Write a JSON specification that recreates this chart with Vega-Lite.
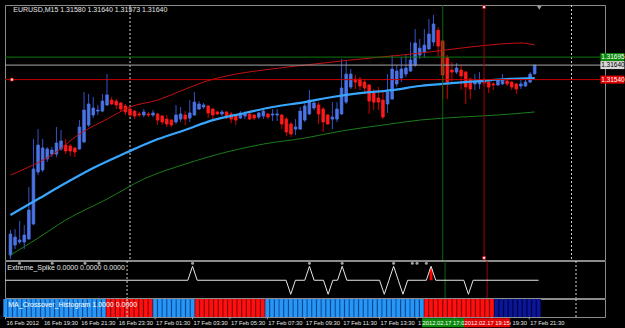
{
"$schema": "https://vega.github.io/schema/vega-lite/v6.json",
"background": "#000000",
"padding": {"left": 2, "top": 3, "right": 0, "bottom": 0},
"bounds": "flush",
"spacing": 1,
"config": {"font": "Liberation Sans", "view": {"stroke": "#8c8c8c"}},
"datasets": {
"candles": [
{"i":0,"o":1.30331,"h":1.30504,"l":1.30304,"c":1.30476},
{"i":1,"o":1.30400,"h":1.30510,"l":1.30373,"c":1.30455},
{"i":2,"o":1.30421,"h":1.30566,"l":1.30407,"c":1.30435},
{"i":3,"o":1.30421,"h":1.30538,"l":1.30373,"c":1.30469},
{"i":4,"o":1.30442,"h":1.30800,"l":1.30435,"c":1.30641},
{"i":5,"o":1.30545,"h":1.31131,"l":1.30538,"c":1.30924},
{"i":6,"o":1.30903,"h":1.31199,"l":1.30882,"c":1.31089},
{"i":7,"o":1.30917,"h":1.31131,"l":1.30903,"c":1.31069},
{"i":8,"o":1.30993,"h":1.31075,"l":1.30972,"c":1.31062},
{"i":9,"o":1.31027,"h":1.31075,"l":1.31006,"c":1.31055},
{"i":10,"o":1.31027,"h":1.31213,"l":1.31006,"c":1.31103},
{"i":11,"o":1.31062,"h":1.31193,"l":1.31048,"c":1.31117},
{"i":12,"o":1.31089,"h":1.31131,"l":1.31027,"c":1.31048},
{"i":13,"o":1.31082,"h":1.31096,"l":1.31013,"c":1.31048},
{"i":14,"o":1.31069,"h":1.31075,"l":1.31006,"c":1.31041},
{"i":15,"o":1.31062,"h":1.31261,"l":1.31055,"c":1.31213},
{"i":16,"o":1.31110,"h":1.31454,"l":1.31103,"c":1.31330},
{"i":17,"o":1.31227,"h":1.31441,"l":1.31213,"c":1.31372},
{"i":18,"o":1.31296,"h":1.31420,"l":1.31275,"c":1.31344},
{"i":19,"o":1.31323,"h":1.31365,"l":1.31296,"c":1.31330},
{"i":20,"o":1.31323,"h":1.31441,"l":1.31317,"c":1.31392},
{"i":21,"o":1.31365,"h":1.31578,"l":1.31358,"c":1.31434},
{"i":22,"o":1.31399,"h":1.31420,"l":1.31365,"c":1.31372},
{"i":23,"o":1.31392,"h":1.31406,"l":1.31337,"c":1.31365},
{"i":24,"o":1.31379,"h":1.31385,"l":1.31317,"c":1.31337},
{"i":25,"o":1.31358,"h":1.31372,"l":1.31296,"c":1.31317},
{"i":26,"o":1.31337,"h":1.31351,"l":1.31282,"c":1.31296},
{"i":27,"o":1.31323,"h":1.31330,"l":1.31268,"c":1.31289},
{"i":28,"o":1.31303,"h":1.31317,"l":1.31282,"c":1.31296},
{"i":29,"o":1.31296,"h":1.31337,"l":1.31282,"c":1.31317},
{"i":30,"o":1.31303,"h":1.31317,"l":1.31282,"c":1.31296},
{"i":31,"o":1.31296,"h":1.31330,"l":1.31282,"c":1.31310},
{"i":32,"o":1.31303,"h":1.31310,"l":1.31227,"c":1.31261},
{"i":33,"o":1.31289,"h":1.31296,"l":1.31227,"c":1.31248},
{"i":34,"o":1.31268,"h":1.31296,"l":1.31213,"c":1.31234},
{"i":35,"o":1.31261,"h":1.31268,"l":1.31213,"c":1.31227},
{"i":36,"o":1.31248,"h":1.31365,"l":1.31234,"c":1.31296},
{"i":37,"o":1.31268,"h":1.31351,"l":1.31248,"c":1.31303},
{"i":38,"o":1.31296,"h":1.31323,"l":1.31227,"c":1.31268},
{"i":39,"o":1.31275,"h":1.31399,"l":1.31248,"c":1.31310},
{"i":40,"o":1.31296,"h":1.31454,"l":1.31289,"c":1.31385},
{"i":41,"o":1.31337,"h":1.31392,"l":1.31330,"c":1.31372},
{"i":42,"o":1.31351,"h":1.31379,"l":1.31337,"c":1.31365},
{"i":43,"o":1.31358,"h":1.31365,"l":1.31275,"c":1.31310},
{"i":44,"o":1.31337,"h":1.31344,"l":1.31268,"c":1.31296},
{"i":45,"o":1.31317,"h":1.31323,"l":1.31296,"c":1.31303},
{"i":46,"o":1.31303,"h":1.31330,"l":1.31289,"c":1.31317},
{"i":47,"o":1.31317,"h":1.31323,"l":1.31268,"c":1.31282},
{"i":48,"o":1.31303,"h":1.31317,"l":1.31241,"c":1.31268},
{"i":49,"o":1.31296,"h":1.31303,"l":1.31227,"c":1.31261},
{"i":50,"o":1.31275,"h":1.31323,"l":1.31268,"c":1.31310},
{"i":51,"o":1.31289,"h":1.31323,"l":1.31268,"c":1.31303},
{"i":52,"o":1.31303,"h":1.31310,"l":1.31261,"c":1.31268},
{"i":53,"o":1.31296,"h":1.31303,"l":1.31261,"c":1.31275},
{"i":54,"o":1.31282,"h":1.31317,"l":1.31268,"c":1.31310},
{"i":55,"o":1.31289,"h":1.31337,"l":1.31268,"c":1.31323},
{"i":56,"o":1.31303,"h":1.31310,"l":1.31268,"c":1.31282},
{"i":57,"o":1.31296,"h":1.31337,"l":1.31255,"c":1.31303},
{"i":58,"o":1.31296,"h":1.31337,"l":1.31255,"c":1.31303},
{"i":59,"o":1.31296,"h":1.31303,"l":1.31199,"c":1.31234},
{"i":60,"o":1.31268,"h":1.31282,"l":1.31151,"c":1.31179},
{"i":61,"o":1.31234,"h":1.31248,"l":1.31144,"c":1.31165},
{"i":62,"o":1.31199,"h":1.31268,"l":1.31158,"c":1.31213},
{"i":63,"o":1.31199,"h":1.31351,"l":1.31193,"c":1.31323},
{"i":64,"o":1.31261,"h":1.31385,"l":1.31248,"c":1.31358},
{"i":65,"o":1.31303,"h":1.31468,"l":1.31296,"c":1.31399},
{"i":66,"o":1.31344,"h":1.31399,"l":1.31330,"c":1.31379},
{"i":67,"o":1.31365,"h":1.31385,"l":1.31234,"c":1.31303},
{"i":68,"o":1.31337,"h":1.31351,"l":1.31179,"c":1.31248},
{"i":69,"o":1.31296,"h":1.31303,"l":1.31227,"c":1.31234},
{"i":70,"o":1.31268,"h":1.31385,"l":1.31199,"c":1.31282},
{"i":71,"o":1.31268,"h":1.31385,"l":1.31248,"c":1.31337},
{"i":72,"o":1.31303,"h":1.31682,"l":1.31296,"c":1.31482},
{"i":73,"o":1.31385,"h":1.31675,"l":1.31372,"c":1.31578},
{"i":74,"o":1.31489,"h":1.31613,"l":1.31475,"c":1.31578},
{"i":75,"o":1.31544,"h":1.31571,"l":1.31475,"c":1.31523},
{"i":76,"o":1.31544,"h":1.31558,"l":1.31468,"c":1.31496},
{"i":77,"o":1.31523,"h":1.31537,"l":1.31441,"c":1.31482},
{"i":78,"o":1.31503,"h":1.31510,"l":1.31303,"c":1.31392},
{"i":79,"o":1.31447,"h":1.31475,"l":1.31330,"c":1.31385},
{"i":80,"o":1.31413,"h":1.31489,"l":1.31330,"c":1.31385},
{"i":81,"o":1.31399,"h":1.31454,"l":1.31268,"c":1.31282},
{"i":82,"o":1.31372,"h":1.31578,"l":1.31310,"c":1.31454},
{"i":83,"o":1.31406,"h":1.31709,"l":1.31399,"c":1.31613},
{"i":84,"o":1.31510,"h":1.31640,"l":1.31489,"c":1.31599},
{"i":85,"o":1.31551,"h":1.31695,"l":1.31523,"c":1.31613},
{"i":86,"o":1.31578,"h":1.31709,"l":1.31558,"c":1.31620},
{"i":87,"o":1.31599,"h":1.31799,"l":1.31592,"c":1.31675},
{"i":88,"o":1.31640,"h":1.31888,"l":1.31627,"c":1.31792},
{"i":89,"o":1.31709,"h":1.31820,"l":1.31682,"c":1.31757},
{"i":90,"o":1.31730,"h":1.31888,"l":1.31689,"c":1.31778},
{"i":91,"o":1.31751,"h":1.31957,"l":1.31744,"c":1.31854},
{"i":92,"o":1.31799,"h":1.31985,"l":1.31771,"c":1.31923},
{"i":93,"o":1.31880,"h":1.31900,"l":1.31696,"c":1.31771},
{"i":94,"o":1.31806,"h":1.31813,"l":1.31406,"c":1.31571},
{"i":95,"o":1.31689,"h":1.31709,"l":1.31406,"c":1.31523},
{"i":96,"o":1.31606,"h":1.31661,"l":1.31523,"c":1.31592},
{"i":97,"o":1.31592,"h":1.31654,"l":1.31578,"c":1.31620},
{"i":98,"o":1.31606,"h":1.31640,"l":1.31468,"c":1.31565},
{"i":99,"o":1.31592,"h":1.31599,"l":1.31372,"c":1.31489},
{"i":100,"o":1.31544,"h":1.31551,"l":1.31406,"c":1.31475},
{"i":101,"o":1.31510,"h":1.31578,"l":1.31468,"c":1.31530},
{"i":102,"o":1.31510,"h":1.31592,"l":1.31475,"c":1.31537},
{"i":103,"o":1.31537,"h":1.31551,"l":1.31496,"c":1.31516},
{"i":104,"o":1.31523,"h":1.31530,"l":1.31447,"c":1.31489},
{"i":105,"o":1.31510,"h":1.31523,"l":1.31468,"c":1.31503},
{"i":106,"o":1.31503,"h":1.31544,"l":1.31496,"c":1.31537},
{"i":107,"o":1.31510,"h":1.31578,"l":1.31503,"c":1.31537},
{"i":108,"o":1.31530,"h":1.31544,"l":1.31496,"c":1.31510},
{"i":109,"o":1.31523,"h":1.31530,"l":1.31468,"c":1.31489},
{"i":110,"o":1.31510,"h":1.31516,"l":1.31441,"c":1.31475},
{"i":111,"o":1.31496,"h":1.31537,"l":1.31475,"c":1.31510},
{"i":112,"o":1.31496,"h":1.31537,"l":1.31489,"c":1.31523},
{"i":113,"o":1.31523,"h":1.31592,"l":1.31516,"c":1.31578},
{"i":114,"o":1.31580,"h":1.31640,"l":1.31573,"c":1.31640}
],
"ma": [
{"i":0,"m":"fast","p":1.30607},{"i":6,"m":"fast","p":1.30717},{"i":12,"m":"fast","p":1.30827},{"i":18,"m":"fast","p":1.30931},{"i":25,"m":"fast","p":1.31034},{"i":31,"m":"fast","p":1.31117},{"i":38,"m":"fast","p":1.31193},{"i":44,"m":"fast","p":1.31261},{"i":51,"m":"fast","p":1.31310},{"i":57,"m":"fast","p":1.31351},{"i":64,"m":"fast","p":1.31385},{"i":70,"m":"fast","p":1.31420},{"i":76,"m":"fast","p":1.31447},{"i":83,"m":"fast","p":1.31468},{"i":89,"m":"fast","p":1.31496},{"i":96,"m":"fast","p":1.31516},{"i":102,"m":"fast","p":1.31530},{"i":108,"m":"fast","p":1.31544},{"i":114,"m":"fast","p":1.31551},
{"i":0,"m":"upper","p":1.30882},{"i":4,"m":"upper","p":1.30938},{"i":9,"m":"upper","p":1.31020},{"i":15,"m":"upper","p":1.31165},{"i":21,"m":"upper","p":1.31268},{"i":26,"m":"upper","p":1.31351},{"i":32,"m":"upper","p":1.31399},{"i":37,"m":"upper","p":1.31461},{"i":42,"m":"upper","p":1.31523},{"i":49,"m":"upper","p":1.31578},{"i":55,"m":"upper","p":1.31606},{"i":64,"m":"upper","p":1.31640},{"i":74,"m":"upper","p":1.31675},{"i":85,"m":"upper","p":1.31709},{"i":91,"m":"upper","p":1.31730},{"i":98,"m":"upper","p":1.31757},{"i":104,"m":"upper","p":1.31778},{"i":111,"m":"upper","p":1.31792},{"i":114,"m":"upper","p":1.31778},
{"i":0,"m":"lower","p":1.30331},{"i":6,"m":"lower","p":1.30448},{"i":12,"m":"lower","p":1.30572},{"i":21,"m":"lower","p":1.30717},{"i":29,"m":"lower","p":1.30855},{"i":38,"m":"lower","p":1.30958},{"i":47,"m":"lower","p":1.31041},{"i":55,"m":"lower","p":1.31096},{"i":64,"m":"lower","p":1.31137},{"i":72,"m":"lower","p":1.31186},{"i":81,"m":"lower","p":1.31227},{"i":89,"m":"lower","p":1.31261},{"i":98,"m":"lower","p":1.31282},{"i":106,"m":"lower","p":1.31296},{"i":114,"m":"lower","p":1.31317}
],
"tags": [
{"p":1.31695,"t":"1.31695","k":"g"},
{"p":1.31640,"t":"1.31640","k":"w"},
{"p":1.31540,"t":"1.31540","k":"r"}
],
"seps": [{"i":26},{"i":122}],
"spike": [
{"i":0,"v":0},{"i":39,"v":0},{"i":40,"v":1.2},{"i":41,"v":0},{"i":60,"v":0},{"i":61,"v":-1.2},{"i":62,"v":0},{"i":64,"v":0},{"i":65,"v":1.2},{"i":66,"v":0},{"i":68,"v":0},{"i":69,"v":-1.2},{"i":70,"v":0},{"i":71,"v":0},{"i":72,"v":1.2},{"i":73,"v":0},{"i":80,"v":0},{"i":81,"v":-1.2},{"i":82,"v":0},{"i":83,"v":1.2},{"i":84,"v":0},{"i":85,"v":-1.2},{"i":86,"v":0},{"i":90,"v":0},{"i":91,"v":1.2},{"i":92,"v":0},{"i":98,"v":0},{"i":99,"v":-1.2},{"i":100,"v":0},{"i":114,"v":0}
],
"arrows": [{"i":3},{"i":10},{"i":17},{"i":20},{"i":40},{"i":65},{"i":72},{"i":83},{"i":87},{"i":88},{"i":90}],
"times": [
{"i":0,"t":"16 Feb 2012"},{"i":8,"t":"16 Feb 19:30"},{"i":16,"t":"16 Feb 21:30"},{"i":24,"t":"16 Feb 23:30"},{"i":32,"t":"17 Feb 01:30"},{"i":40,"t":"17 Feb 03:30"},{"i":48,"t":"17 Feb 05:30"},{"i":56,"t":"17 Feb 07:30"},{"i":64,"t":"17 Feb 09:30"},{"i":72,"t":"17 Feb 11:30"},{"i":80,"t":"17 Feb 13:30"},{"i":88,"t":"17 Feb 15:30"},{"i":96,"t":"17 Feb 17:30"},{"i":104,"t":"17 Feb 19:30"},{"i":112,"t":"17 Feb 21:30"}
],
"hist": [
{"i":0,"s":"b"},{"i":1,"s":"b"},{"i":2,"s":"b"},{"i":3,"s":"b"},{"i":4,"s":"b"},{"i":5,"s":"b"},{"i":6,"s":"b"},{"i":7,"s":"b"},{"i":8,"s":"b"},{"i":9,"s":"b"},{"i":10,"s":"b"},{"i":11,"s":"b"},{"i":12,"s":"b"},{"i":13,"s":"b"},{"i":14,"s":"b"},{"i":15,"s":"b"},{"i":16,"s":"b"},{"i":17,"s":"b"},{"i":18,"s":"b"},{"i":19,"s":"b"},{"i":20,"s":"b"},{"i":21,"s":"b"},
{"i":22,"s":"r"},{"i":23,"s":"r"},{"i":24,"s":"r"},{"i":25,"s":"r"},{"i":26,"s":"r"},{"i":27,"s":"r"},{"i":28,"s":"r"},{"i":29,"s":"r"},{"i":30,"s":"r"},{"i":31,"s":"r"},
{"i":32,"s":"b"},{"i":33,"s":"b"},{"i":34,"s":"b"},{"i":35,"s":"b"},{"i":36,"s":"b"},{"i":37,"s":"b"},{"i":38,"s":"b"},{"i":39,"s":"b"},{"i":40,"s":"b"},
{"i":41,"s":"r"},{"i":42,"s":"r"},{"i":43,"s":"r"},{"i":44,"s":"r"},{"i":45,"s":"r"},{"i":46,"s":"r"},{"i":47,"s":"r"},{"i":48,"s":"r"},{"i":49,"s":"r"},{"i":50,"s":"r"},{"i":51,"s":"r"},{"i":52,"s":"r"},{"i":53,"s":"r"},{"i":54,"s":"r"},{"i":55,"s":"r"},
{"i":56,"s":"b"},{"i":57,"s":"b"},{"i":58,"s":"b"},{"i":59,"s":"b"},{"i":60,"s":"b"},{"i":61,"s":"b"},{"i":62,"s":"b"},{"i":63,"s":"b"},{"i":64,"s":"b"},{"i":65,"s":"b"},{"i":66,"s":"b"},{"i":67,"s":"b"},{"i":68,"s":"b"},{"i":69,"s":"b"},{"i":70,"s":"b"},{"i":71,"s":"b"},{"i":72,"s":"b"},{"i":73,"s":"b"},{"i":74,"s":"b"},{"i":75,"s":"b"},{"i":76,"s":"b"},{"i":77,"s":"b"},{"i":78,"s":"b"},{"i":79,"s":"b"},{"i":80,"s":"b"},{"i":81,"s":"b"},{"i":82,"s":"b"},{"i":83,"s":"b"},{"i":84,"s":"b"},{"i":85,"s":"b"},{"i":86,"s":"b"},{"i":87,"s":"b"},{"i":88,"s":"b"},{"i":89,"s":"b"},
{"i":90,"s":"r"},{"i":91,"s":"r"},{"i":92,"s":"r"},{"i":93,"s":"r"},{"i":94,"s":"r"},{"i":95,"s":"r"},{"i":96,"s":"r"},{"i":97,"s":"r"},{"i":98,"s":"r"},{"i":99,"s":"r"},{"i":100,"s":"r"},{"i":101,"s":"r"},{"i":102,"s":"r"},{"i":103,"s":"r"},{"i":104,"s":"r"},
{"i":105,"s":"n"},{"i":106,"s":"n"},{"i":107,"s":"n"},{"i":108,"s":"n"},{"i":109,"s":"n"},{"i":110,"s":"n"},{"i":111,"s":"n"},{"i":112,"s":"n"},{"i":113,"s":"n"},{"i":114,"s":"n"}
]
},
"vconcat": [
{
"width": 600, "height": 255,
"layer": [
{"data": {"name": "seps"}, "mark": {"type": "rule", "color": "#d0d0d0", "strokeDash": [2, 2], "strokeWidth": 1},
 "encoding": {"x": {"field": "i", "type": "quantitative", "scale": {"domain": [-0.1, 128.2], "nice": false, "zero": false}, "axis": null}}},
{"data": {"name": "candles"}, "mark": {"type": "rule", "strokeWidth": 1},
 "encoding": {
  "x": {"field": "i", "type": "quantitative", "scale": {"domain": [-0.1, 128.2], "nice": false, "zero": false}, "axis": null},
  "y": {"field": "l", "type": "quantitative", "scale": {"domain": [1.30297, 1.32054], "nice": false, "zero": false},
        "axis": {"orient": "right", "values": [1.3198, 1.31855, 1.31725, 1.31595, 1.31465, 1.31335, 1.3121, 1.3108, 1.3095, 1.30825, 1.30695, 1.30565, 1.30435, 1.30305],
                 "format": ".5f", "labelFont": "Liberation Sans", "labelFontSize": 6.5, "labelColor": "#e6e6e6", "tickSize": 2, "tickColor": "#a0a0a0",
                 "domainColor": "#8c8c8c", "grid": false, "title": null, "labelPadding": 2, "labelOverlap": false, "labelBound": false, "labelFlush": false}},
  "y2": {"field": "h"},
  "color": {"condition": {"test": "datum.c >= datum.o", "value": "#3553c8"}, "value": "#d00000"}}},
{"data": {"name": "candles"}, "mark": {"type": "bar", "size": 2.6, "strokeWidth": 0.8},
 "encoding": {
  "x": {"field": "i", "type": "quantitative", "axis": null},
  "y": {"field": "o", "type": "quantitative", "axis": null},
  "y2": {"field": "c"},
  "fill": {"condition": {"test": "datum.c >= datum.o", "value": "#4b74e6"}, "value": "#ff1a1a"},
  "stroke": {"condition": {"test": "datum.c >= datum.o", "value": "#4b74e6"}, "value": "#ff1a1a"}}},
{"data": {"name": "ma"}, "transform": [{"filter": "datum.m == 'upper'"}], "mark": {"type": "line", "color": "#c41010", "strokeWidth": 1, "interpolate": "monotone"},
 "encoding": {"x": {"field": "i", "type": "quantitative", "axis": null}, "y": {"field": "p", "type": "quantitative", "axis": null}}},
{"data": {"name": "ma"}, "transform": [{"filter": "datum.m == 'lower'"}], "mark": {"type": "line", "color": "#1b7d1b", "strokeWidth": 1, "interpolate": "monotone"},
 "encoding": {"x": {"field": "i", "type": "quantitative", "axis": null}, "y": {"field": "p", "type": "quantitative", "axis": null}}},
{"data": {"name": "ma"}, "transform": [{"filter": "datum.m == 'fast'"}], "mark": {"type": "line", "color": "#38a6ff", "strokeWidth": 2.2, "interpolate": "monotone"},
 "encoding": {"x": {"field": "i", "type": "quantitative", "axis": null}, "y": {"field": "p", "type": "quantitative", "axis": null}}},
{"data": {"name": "tags"}, "mark": {"type": "rule", "strokeWidth": 1},
 "encoding": {"y": {"field": "p", "type": "quantitative", "axis": null},
  "color": {"condition": [{"test": "datum.k == 'g'", "value": "#0c7a0c"}, {"test": "datum.k == 'w'", "value": "#a8a8a8"}], "value": "#c80000"}}},
{"data": {"values": [{"i": 94, "k": "g"}, {"i": 103, "k": "r"}]}, "mark": {"type": "rule", "strokeWidth": 1},
 "encoding": {"x": {"field": "i", "type": "quantitative", "axis": null},
  "color": {"condition": {"test": "datum.k == 'g'", "value": "#0c6a0c"}, "value": "#a00000"}}},
{"data": {"values": [{"i": 0.3, "p": 1.3154}, {"i": 103, "p": 1.3204}, {"i": 103, "p": 1.30312}]}, "mark": {"type": "square", "size": 8, "filled": true, "color": "#ffffff", "stroke": "#c80000", "strokeWidth": 0.8, "opacity": 1},
 "encoding": {"x": {"field": "i", "type": "quantitative", "axis": null}, "y": {"field": "p", "type": "quantitative", "axis": null}}},
{"data": {"values": [{"i": 115, "p": 1.32034}]}, "mark": {"type": "point", "shape": "triangle-down", "size": 20, "filled": true, "color": "#a0a0a0", "opacity": 1},
 "encoding": {"x": {"field": "i", "type": "quantitative", "axis": null}, "y": {"field": "p", "type": "quantitative", "axis": null}}},
{"data": {"name": "tags"}, "mark": {"type": "tick", "orient": "horizontal", "size": 24, "thickness": 8, "clip": false, "opacity": 1},
 "encoding": {"x": {"datum": 130.9, "type": "quantitative", "axis": null}, "y": {"field": "p", "type": "quantitative", "axis": null},
  "color": {"condition": [{"test": "datum.k == 'g'", "value": "#0c8a0c"}, {"test": "datum.k == 'w'", "value": "#d8d8d8"}], "value": "#e00000"}}},
{"data": {"name": "tags"}, "mark": {"type": "text", "align": "left", "baseline": "middle", "fontSize": 6.5, "font": "Liberation Sans", "clip": false},
 "encoding": {"x": {"datum": 128.45, "type": "quantitative", "axis": null}, "y": {"field": "p", "type": "quantitative", "axis": null}, "text": {"field": "t"},
  "color": {"condition": {"test": "datum.k == 'w'", "value": "#000000"}, "value": "#ffffff"}}},
{"data": {"values": [{"t": "EURUSD,M15  1.31580 1.31640 1.31573 1.31640"}]}, "mark": {"type": "text", "align": "left", "baseline": "middle", "fontSize": 7, "font": "Liberation Sans", "color": "#e6e6e6"},
 "encoding": {"x": {"datum": 0.6, "type": "quantitative", "axis": null}, "y": {"datum": 1.32022, "type": "quantitative", "axis": null}, "text": {"field": "t"}}}
]
},
{
"width": 600, "height": 37,
"layer": [
{"data": {"name": "seps"}, "mark": {"type": "rule", "color": "#d0d0d0", "strokeDash": [2, 2], "strokeWidth": 1},
 "encoding": {"x": {"field": "i", "type": "quantitative", "scale": {"domain": [-0.1, 128.2], "nice": false, "zero": false}, "axis": null}}},
{"data": {"values": [{"i": 94, "k": "g"}, {"i": 103, "k": "r"}]}, "mark": {"type": "rule", "strokeWidth": 1},
 "encoding": {"x": {"field": "i", "type": "quantitative", "axis": null},
  "color": {"condition": {"test": "datum.k == 'g'", "value": "#0c6a0c"}, "value": "#a00000"}}},
{"data": {"values": [{"i": 91, "a": 0, "b": 1.0}]}, "mark": {"type": "rule", "strokeWidth": 3, "color": "#ff0000"},
 "encoding": {"x": {"field": "i", "type": "quantitative", "axis": null}, "y": {"field": "a", "type": "quantitative", "axis": null}, "y2": {"field": "b"}}},
{"data": {"name": "spike"}, "mark": {"type": "line", "color": "#e8e8e8", "strokeWidth": 1},
 "encoding": {"x": {"field": "i", "type": "quantitative", "axis": null},
  "y": {"field": "v", "type": "quantitative", "scale": {"domain": [-1.52, 1.65], "nice": false, "zero": false},
        "axis": {"orient": "right", "values": [1.2, 0, -1.2], "labelExpr": "datum.value == 0 ? '0.00' : format(datum.value, '.1f')",
                 "labelFont": "Liberation Sans", "labelFontSize": 6.5, "labelColor": "#e6e6e6", "tickSize": 2, "tickColor": "#a0a0a0",
                 "domainColor": "#8c8c8c", "grid": false, "title": null, "labelPadding": 2, "labelOverlap": false, "labelBound": false, "labelFlush": false}}}},
{"data": {"name": "arrows"}, "mark": {"type": "circle", "size": 9, "color": "#a0a0a0", "opacity": 1},
 "encoding": {"x": {"field": "i", "type": "quantitative", "axis": null}, "y": {"datum": 1.45, "type": "quantitative", "axis": null}}},
{"data": {"values": [{"t": "Extreme_Spike 0.0000 0.0000 0.0000"}]}, "mark": {"type": "text", "align": "left", "baseline": "middle", "fontSize": 7, "font": "Liberation Sans", "color": "#e6e6e6"},
 "encoding": {"x": {"datum": 0.4, "type": "quantitative", "axis": null}, "y": {"datum": 1.05, "type": "quantitative", "axis": null}, "text": {"field": "t"}}}
]
},
{
"width": 600, "height": 18,
"layer": [
{"data": {"name": "hist"}, "mark": {"type": "rule", "strokeWidth": 4.7},
 "encoding": {"x": {"field": "i", "type": "quantitative", "scale": {"domain": [-0.1, 128.2], "nice": false, "zero": false}, "axis": null},
  "color": {"condition": [{"test": "datum.s == 'b'", "value": "#0f5fb8"}, {"test": "datum.s == 'r'", "value": "#a80000"}], "value": "#00005e"}}},
{"data": {"name": "hist"}, "mark": {"type": "rule", "strokeWidth": 3.4},
 "encoding": {"x": {"field": "i", "type": "quantitative", "axis": null},
  "color": {"condition": [{"test": "datum.s == 'b'", "value": "#2796f5"}, {"test": "datum.s == 'r'", "value": "#ff1010"}], "value": "#0a1896"}}},
{"data": {"name": "seps"}, "mark": {"type": "rule", "color": "#d0d0d0", "strokeDash": [2, 2], "strokeWidth": 1},
 "encoding": {"x": {"field": "i", "type": "quantitative", "axis": null}}},
{"data": {"values": [{"t": "MA_Crossover_Histogram 1.0000 0.0000"}]}, "mark": {"type": "text", "align": "left", "baseline": "middle", "fontSize": 7, "font": "Liberation Sans", "color": "#ffffff"},
 "encoding": {"x": {"datum": 0.6, "type": "quantitative", "axis": null},
  "y": {"datum": 1.0, "type": "quantitative", "scale": {"domain": [-0.35, 1.63], "nice": false, "zero": false},
        "axis": {"orient": "right", "values": [1.05, -0.05], "format": ".2f",
                 "labelFont": "Liberation Sans", "labelFontSize": 6.5, "labelColor": "#e6e6e6", "tickSize": 2, "tickColor": "#a0a0a0",
                 "domainColor": "#8c8c8c", "grid": false, "title": null, "labelPadding": 2, "labelOverlap": false, "labelBound": false, "labelFlush": false}},
  "text": {"field": "t"}}},
{"data": {"name": "times"}, "mark": {"type": "rule", "color": "#a0a0a0", "strokeWidth": 1, "clip": false},
 "encoding": {"x": {"field": "i", "type": "quantitative", "axis": null}, "y": {"datum": -0.35, "type": "quantitative", "axis": null}, "y2": {"datum": -0.6}}},
{"data": {"name": "times"}, "mark": {"type": "text", "align": "left", "baseline": "middle", "fontSize": 5.8, "font": "Liberation Sans", "color": "#e6e6e6", "dx": 1, "clip": false},
 "encoding": {"x": {"field": "i", "type": "quantitative", "axis": null}, "y": {"datum": -0.98, "type": "quantitative", "axis": null}, "text": {"field": "t"}}},
{"data": {"values": [{"i": 94}]}, "mark": {"type": "tick", "orient": "horizontal", "size": 46, "thickness": 9, "clip": false, "opacity": 1, "color": "#0c8a0c"},
 "encoding": {"x": {"field": "i", "type": "quantitative", "axis": null}, "y": {"datum": -0.98, "type": "quantitative", "axis": null}}},
{"data": {"values": [{"i": 94, "t": "2012.02.17 17:00"}]}, "mark": {"type": "text", "align": "center", "baseline": "middle", "fontSize": 5.8, "font": "Liberation Sans", "color": "#ffffff", "clip": false},
 "encoding": {"x": {"field": "i", "type": "quantitative", "axis": null}, "y": {"datum": -0.98, "type": "quantitative", "axis": null}, "text": {"field": "t"}}},
{"data": {"values": [{"i": 103}]}, "mark": {"type": "tick", "orient": "horizontal", "size": 46, "thickness": 9, "clip": false, "opacity": 1, "color": "#e00000"},
 "encoding": {"x": {"field": "i", "type": "quantitative", "axis": null}, "y": {"datum": -0.98, "type": "quantitative", "axis": null}}},
{"data": {"values": [{"i": 103, "t": "2012.02.17 19:15"}]}, "mark": {"type": "text", "align": "center", "baseline": "middle", "fontSize": 5.8, "font": "Liberation Sans", "color": "#ffffff", "clip": false},
 "encoding": {"x": {"field": "i", "type": "quantitative", "axis": null}, "y": {"datum": -0.98, "type": "quantitative", "axis": null}, "text": {"field": "t"}}}
]
}
]
}
